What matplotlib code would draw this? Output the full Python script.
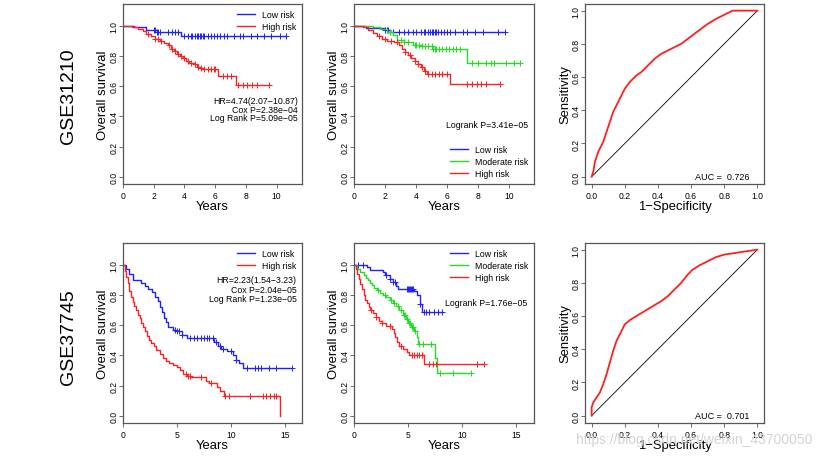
import numpy as np
import matplotlib
matplotlib.use('Agg')
import matplotlib.pyplot as plt

plt.rcParams['font.family'] = ['Liberation Sans', 'DejaVu Sans']

MINUS = '\u2212'
BLUE, GREEN, RED = '#1f1fff', '#22dd22', '#ff1f1f'

# ---- GSE31210, two groups ----
a_low_t = [0, 0.7, 1.5, 2.2, 3.8]
a_low_s = [1.0, 0.99, 0.975, 0.958, 0.935]
a_low_end = 10.6
a_low_cens = [2.0, 2.1, 2.2, 2.3, 2.4, 2.9, 3.2, 3.4, 3.6, 4.0, 4.2, 4.4, 4.5, 4.7, 4.8,
              4.9, 5.0, 5.1, 5.2, 5.3, 5.5, 5.7, 5.9, 6.1, 6.3, 6.6, 6.8, 7.2, 7.6, 7.8,
              8.3, 8.7, 9.2, 9.6, 10.2, 10.6]
a_high_t = [0, 0.6, 1.0, 1.3, 1.5, 1.8, 2.1, 2.4, 2.7, 2.9, 3.1, 3.3, 3.5, 3.7, 3.9, 4.1,
            4.3, 4.6, 4.8, 5.0, 5.2, 6.2, 7.35]
a_high_s = [1.0, 0.99, 0.98, 0.965, 0.945, 0.93, 0.915, 0.9, 0.885, 0.87, 0.85, 0.835,
            0.815, 0.8, 0.785, 0.77, 0.755, 0.745, 0.73, 0.72, 0.712, 0.668, 0.607]
a_high_end = 9.5
a_high_cens = [1.6, 2.1, 2.3, 2.5, 3.0, 3.2, 3.4, 3.6, 3.8, 4.0, 4.2, 4.4, 4.7, 4.9, 5.1,
               5.3, 5.5, 5.7, 5.9, 6.0, 6.5, 6.8, 7.0, 7.5, 7.8, 8.1, 8.4, 8.7, 9.5]

# ---- GSE31210, three groups ----
b_low_t = [0, 0.8, 2.0, 2.3]
b_low_s = [1.0, 0.985, 0.97, 0.957]
b_low_end = 9.7
b_low_cens = [2.0, 2.1, 2.2, 2.5, 2.9, 3.2, 3.5, 3.8, 4.0, 4.3, 4.5, 4.6, 4.8, 4.9, 5.0,
              5.1, 5.2, 5.3, 5.4, 5.6, 5.8, 6.0, 6.2, 6.5, 7.0, 7.3, 7.8, 8.3, 9.3, 9.7]
b_mod_t = [0, 1.2, 1.7, 2.1, 2.5, 2.8, 3.2, 3.8, 4.4, 5.1, 7.3]
b_mod_s = [1.0, 0.99, 0.978, 0.96, 0.94, 0.905, 0.89, 0.875, 0.865, 0.847, 0.757]
b_mod_end = 10.7
b_mod_cens = [2.3, 3.0, 3.2, 3.5, 3.9, 4.0, 4.2, 4.4, 4.6, 4.8, 5.0, 5.1, 5.2, 5.3, 5.5,
              5.7, 5.9, 6.1, 6.4, 6.6, 6.8, 7.6, 8.0, 8.5, 8.8, 9.0, 9.8, 10.3, 10.7]
b_high_t = [0, 0.6, 0.9, 1.2, 1.5, 1.8, 2.1, 2.6, 2.9, 3.1, 3.3, 3.5, 3.7, 3.9, 4.1, 4.3,
            4.5, 4.7, 6.2]
b_high_s = [1.0, 0.99, 0.975, 0.955, 0.935, 0.915, 0.9, 0.89, 0.87, 0.85, 0.83, 0.81,
            0.79, 0.77, 0.75, 0.725, 0.7, 0.68, 0.612]
b_high_end = 9.4
b_high_cens = [1.6, 2.0, 2.4, 2.8, 3.3, 3.6, 3.9, 4.1, 4.4, 4.6, 4.8, 5.0, 5.2, 5.5, 5.7,
               6.0, 7.3, 7.6, 7.9, 8.2, 8.5, 9.4]

# ---- GSE37745, two groups ----
c_low_t = [0, 0.3, 0.6, 0.9, 1.7, 2.0, 2.3, 2.7, 3.0, 3.2, 3.4, 3.6, 3.8, 4.0, 4.2, 4.6,
           5.0, 5.5, 5.9, 8.4, 8.8, 9.1, 9.6, 10.2, 10.5, 10.8, 11.1]
c_low_s = [1.0, 0.97, 0.94, 0.9, 0.88, 0.86, 0.84, 0.82, 0.79, 0.76, 0.72, 0.69, 0.65,
           0.62, 0.59, 0.57, 0.56, 0.535, 0.515, 0.49, 0.465, 0.44, 0.43, 0.40, 0.37,
           0.35, 0.317]
c_low_end = 15.7
c_low_cens = [4.8, 5.0, 5.2, 5.5, 6.2, 6.6, 6.9, 7.2, 7.5, 7.8, 8.0, 8.3, 8.6, 9.0, 9.3,
              10.0, 10.5, 11.5, 12.2, 12.5, 12.8, 13.5, 14.2, 15.7]
c_high_t = [0, 0.15, 0.3, 0.45, 0.6, 0.75, 0.9, 1.05, 1.2, 1.4, 1.55, 1.7, 1.85, 2.0,
            2.2, 2.4, 2.6, 2.85, 3.1, 3.4, 3.7, 4.0, 4.3, 4.6, 5.0, 5.3, 5.6, 5.9, 6.3,
            7.7, 8.0, 8.7, 9.0, 9.4, 14.6]
c_high_s = [1.0, 0.96, 0.92, 0.88, 0.83, 0.79, 0.755, 0.73, 0.7, 0.67, 0.645, 0.615,
            0.585, 0.56, 0.53, 0.505, 0.48, 0.46, 0.435, 0.41, 0.385, 0.365, 0.35, 0.335,
            0.32, 0.30, 0.28, 0.265, 0.255, 0.23, 0.215, 0.19, 0.165, 0.13, 0.0]
c_high_end = 14.6
c_high_cens = [5.8, 6.0, 6.2, 7.2, 8.2, 9.5, 9.8, 11.8, 13.0, 13.3, 13.6, 14.0, 14.2]

# ---- GSE37745, three groups ----
d_low_t = [0, 1.2, 1.5, 2.7, 2.9, 3.3, 3.6, 3.9, 4.1, 5.6, 5.8, 6.1, 6.3]
d_low_s = [1.0, 0.985, 0.965, 0.95, 0.93, 0.905, 0.885, 0.86, 0.84, 0.83, 0.8, 0.74, 0.686]
d_low_end = 8.2
d_low_cens = [0.4, 0.8, 3.0, 3.3, 3.6, 3.8, 4.9, 5.0, 5.1, 5.2, 5.3, 5.4, 5.5, 6.1, 6.5,
              6.7, 7.0, 7.4, 7.8, 8.2]
d_mod_t = [0, 0.3, 0.6, 0.9, 1.1, 1.3, 1.5, 1.7, 1.9, 2.1, 2.4, 2.7, 3.0, 3.3, 3.6, 3.9,
           4.2, 4.5, 4.8, 5.0, 5.3, 5.6, 5.8, 5.9, 7.55, 7.7]
d_mod_s = [1.0, 0.975, 0.955, 0.93, 0.915, 0.9, 0.88, 0.865, 0.85, 0.835, 0.815, 0.8,
           0.785, 0.77, 0.75, 0.73, 0.7, 0.67, 0.64, 0.615, 0.59, 0.56, 0.52, 0.476,
           0.38, 0.283]
d_mod_end = 10.9
d_mod_cens = [2.2, 2.9, 3.4, 3.7, 4.1, 4.4, 4.6, 4.7, 4.9, 5.1, 5.2, 5.4, 5.5, 5.7, 6.0,
              6.4, 7.1, 8.0, 9.2, 10.9]
d_high_t = [0, 0.15, 0.3, 0.45, 0.6, 0.75, 0.9, 1.05, 1.2, 1.35, 1.5, 1.8, 2.0, 2.3, 2.6,
            3.0, 3.5, 3.7, 3.85, 4.0, 4.2, 4.5, 4.9, 5.1, 6.5]
d_high_s = [1.0, 0.975, 0.94, 0.905, 0.87, 0.84, 0.8, 0.77, 0.745, 0.72, 0.7, 0.68, 0.655,
            0.63, 0.615, 0.595, 0.575, 0.55, 0.52, 0.49, 0.465, 0.445, 0.42, 0.4, 0.343]
d_high_end = 12.1
d_high_cens = [1.6, 2.0, 2.6, 3.3, 4.4, 5.4, 5.6, 5.8, 6.0, 6.3, 7.0, 7.3, 7.6, 11.4, 12.1]

# ---- ROC curves ----
roc1_fpr = [0, 0.01, 0.02, 0.04, 0.07, 0.09, 0.11, 0.13, 0.16, 0.2, 0.23, 0.27, 0.3, 0.34,
            0.38, 0.42, 0.46, 0.5, 0.54, 0.58, 0.62, 0.66, 0.7, 0.75, 0.8, 0.85, 1.0]
roc1_tpr = [0, 0.03, 0.09, 0.15, 0.21, 0.27, 0.33, 0.39, 0.45, 0.53, 0.57, 0.61, 0.63,
            0.67, 0.71, 0.74, 0.76, 0.78, 0.8, 0.83, 0.86, 0.89, 0.92, 0.95, 0.975, 1.0, 1.0]
roc2_fpr = [0, 0.0, 0.01, 0.03, 0.05, 0.07, 0.09, 0.11, 0.13, 0.15, 0.18, 0.2, 0.23, 0.27,
            0.32, 0.37, 0.42, 0.46, 0.5, 0.54, 0.58, 0.61, 0.65, 0.7, 0.75, 0.8, 0.9, 1.0]
roc2_tpr = [0, 0.05, 0.08, 0.11, 0.14, 0.19, 0.25, 0.32, 0.39, 0.45, 0.51, 0.55, 0.575,
            0.6, 0.63, 0.66, 0.69, 0.72, 0.76, 0.80, 0.85, 0.88, 0.905, 0.93, 0.955, 0.97,
            0.985, 1.0]

FRAME = '#555555'
LABEL_FS = 9.4


def style_axes(ax):
    for sp in ax.spines.values():
        sp.set_color(FRAME)
        sp.set_linewidth(0.9)
    ax.tick_params(direction='out', length=3, width=0.6, color=FRAME,
                   labelsize=6.2, pad=2)
    ax.tick_params(axis='y', labelrotation=90, pad=0.5)
    for lbl in ax.get_yticklabels():
        lbl.set_va('center')


def km(ax, t, s, end, cens, color, label):
    tt = list(t) + [end]
    ss = list(s) + [s[-1]]
    ax.step(tt, ss, where='post', color=color, lw=1.0, label=label)
    idx = np.searchsorted(t, cens, side='right') - 1
    cy = np.array(s)[idx]
    ax.plot(cens, cy, ls='none', marker='+', ms=5, mew=0.7, color=color)


def km_frame(ax, xmax, xticks):
    ax.set_xlim(0, xmax)
    ax.set_ylim(-0.048, 1.145)
    ax.set_xticks(xticks)
    ax.set_yticks([0, 0.2, 0.4, 0.6, 0.8, 1.0])
    ax.set_yticklabels(['0.0', '0.2', '0.4', '0.6', '0.8', '1.0'])
    ax.set_xlabel('Years', fontsize=LABEL_FS, labelpad=0)
    ax.set_ylabel('Overall survival', fontsize=LABEL_FS, labelpad=0)
    style_axes(ax)


def roc(ax, fpr, tpr, auc):
    ax.plot([0, 1], [0, 1], color='black', lw=0.6)
    ax.plot(fpr, tpr, color=RED, lw=1.3)
    ax.set_xlim(-0.04, 1.04)
    ax.set_ylim(-0.044, 1.04)
    ticks = [0, 0.2, 0.4, 0.6, 0.8, 1.0]
    tl = ['0.0', '0.2', '0.4', '0.6', '0.8', '1.0']
    ax.set_xticks(ticks)
    ax.set_xticklabels(tl)
    ax.set_yticks(ticks)
    ax.set_yticklabels(tl)
    ax.set_xlabel('1' + MINUS + 'Specificity', fontsize=LABEL_FS, labelpad=0)
    ax.set_ylabel('Sensitivity', fontsize=LABEL_FS, labelpad=0)
    ax.text(0.95, 0.0, 'AUC =  ' + auc, ha='right', va='center', fontsize=6.5)
    style_axes(ax)


W, H = 822, 460
fig = plt.figure(figsize=(W / 100, H / 100), dpi=100)


def box(x0, x1, y0, y1):
    return [x0 / W, 1 - y1 / H, (x1 - x0) / W, (y1 - y0) / H]


ax1 = fig.add_axes(box(123, 302, 5, 185))
ax2 = fig.add_axes(box(354, 534, 5, 185))
ax3 = fig.add_axes(box(585, 764, 5, 185))
ax4 = fig.add_axes(box(123, 302, 244, 424))
ax5 = fig.add_axes(box(354, 534, 244, 424))
ax6 = fig.add_axes(box(585, 764, 244, 424))

leg_kw = dict(frameon=False, fontsize=6.3, handlelength=2.0, handletextpad=0.8,
              labelspacing=0.35, borderaxespad=0.3)

# top left
km(ax1, a_low_t, a_low_s, a_low_end, a_low_cens, BLUE, 'Low risk')
km(ax1, a_high_t, a_high_s, a_high_end, a_high_cens, RED, 'High risk')
km_frame(ax1, 11.65, [0, 2, 4, 6, 8, 10])
ax1.legend(loc='upper right', **leg_kw)
ax1.text(11.4, 0.503, 'HR=4.74(2.07' + MINUS + '10.87)', ha='right', va='center', fontsize=6.3)
ax1.text(11.4, 0.448, 'Cox P=2.38e' + MINUS + '04', ha='right', va='center', fontsize=6.3)
ax1.text(11.4, 0.393, 'Log Rank P=5.09e' + MINUS + '05', ha='right', va='center', fontsize=6.3)

# top middle
km(ax2, b_low_t, b_low_s, b_low_end, b_low_cens, BLUE, 'Low risk')
km(ax2, b_mod_t, b_mod_s, b_mod_end, b_mod_cens, GREEN, 'Moderate risk')
km(ax2, b_high_t, b_high_s, b_high_end, b_high_cens, RED, 'High risk')
km_frame(ax2, 11.6, [0, 2, 4, 6, 8, 10])
ax2.legend(loc='lower right', **leg_kw)
ax2.text(11.25, 0.349, 'Logrank P=3.41e' + MINUS + '05', ha='right', va='center', fontsize=6.3)

# bottom left
km(ax4, c_low_t, c_low_s, c_low_end, c_low_cens, BLUE, 'Low risk')
km(ax4, c_high_t, c_high_s, c_high_end, c_high_cens, RED, 'High risk')
km_frame(ax4, 16.6, [0, 5, 10, 15])
ax4.legend(loc='upper right', **leg_kw)
ax4.text(16.1, 0.903, 'HR=2.23(1.54' + MINUS + '3.23)', ha='right', va='center', fontsize=6.3)
ax4.text(16.1, 0.84, 'Cox P=2.04e' + MINUS + '05', ha='right', va='center', fontsize=6.3)
ax4.text(16.1, 0.779, 'Log Rank P=1.23e' + MINUS + '05', ha='right', va='center', fontsize=6.3)

# bottom middle
km(ax5, d_low_t, d_low_s, d_low_end, d_low_cens, BLUE, 'Low risk')
km(ax5, d_mod_t, d_mod_s, d_mod_end, d_mod_cens, GREEN, 'Moderate risk')
km(ax5, d_high_t, d_high_s, d_high_end, d_high_cens, RED, 'High risk')
km_frame(ax5, 16.7, [0, 5, 10, 15])
ax5.legend(loc='upper right', **leg_kw)
ax5.text(16.1, 0.752, 'Logrank P=1.76e' + MINUS + '05', ha='right', va='center', fontsize=6.3)

roc(ax3, roc1_fpr, roc1_tpr, '0.726')
roc(ax6, roc2_fpr, roc2_tpr, '0.701')

fig.text(68 / W, 1 - 96 / H, 'GSE31210', rotation=90, ha='center', va='center', fontsize=14)
fig.text(68 / W, 1 - 337 / H, 'GSE37745', rotation=90, ha='center', va='center', fontsize=14)
fig.text(812 / W, 1 - 440 / H, 'https://blog.csdn.net/weixin_43700050', ha='right',
         va='center', fontsize=10, color='#d4d4d4', zorder=10)

fig.savefig('out.png', dpi=100)
